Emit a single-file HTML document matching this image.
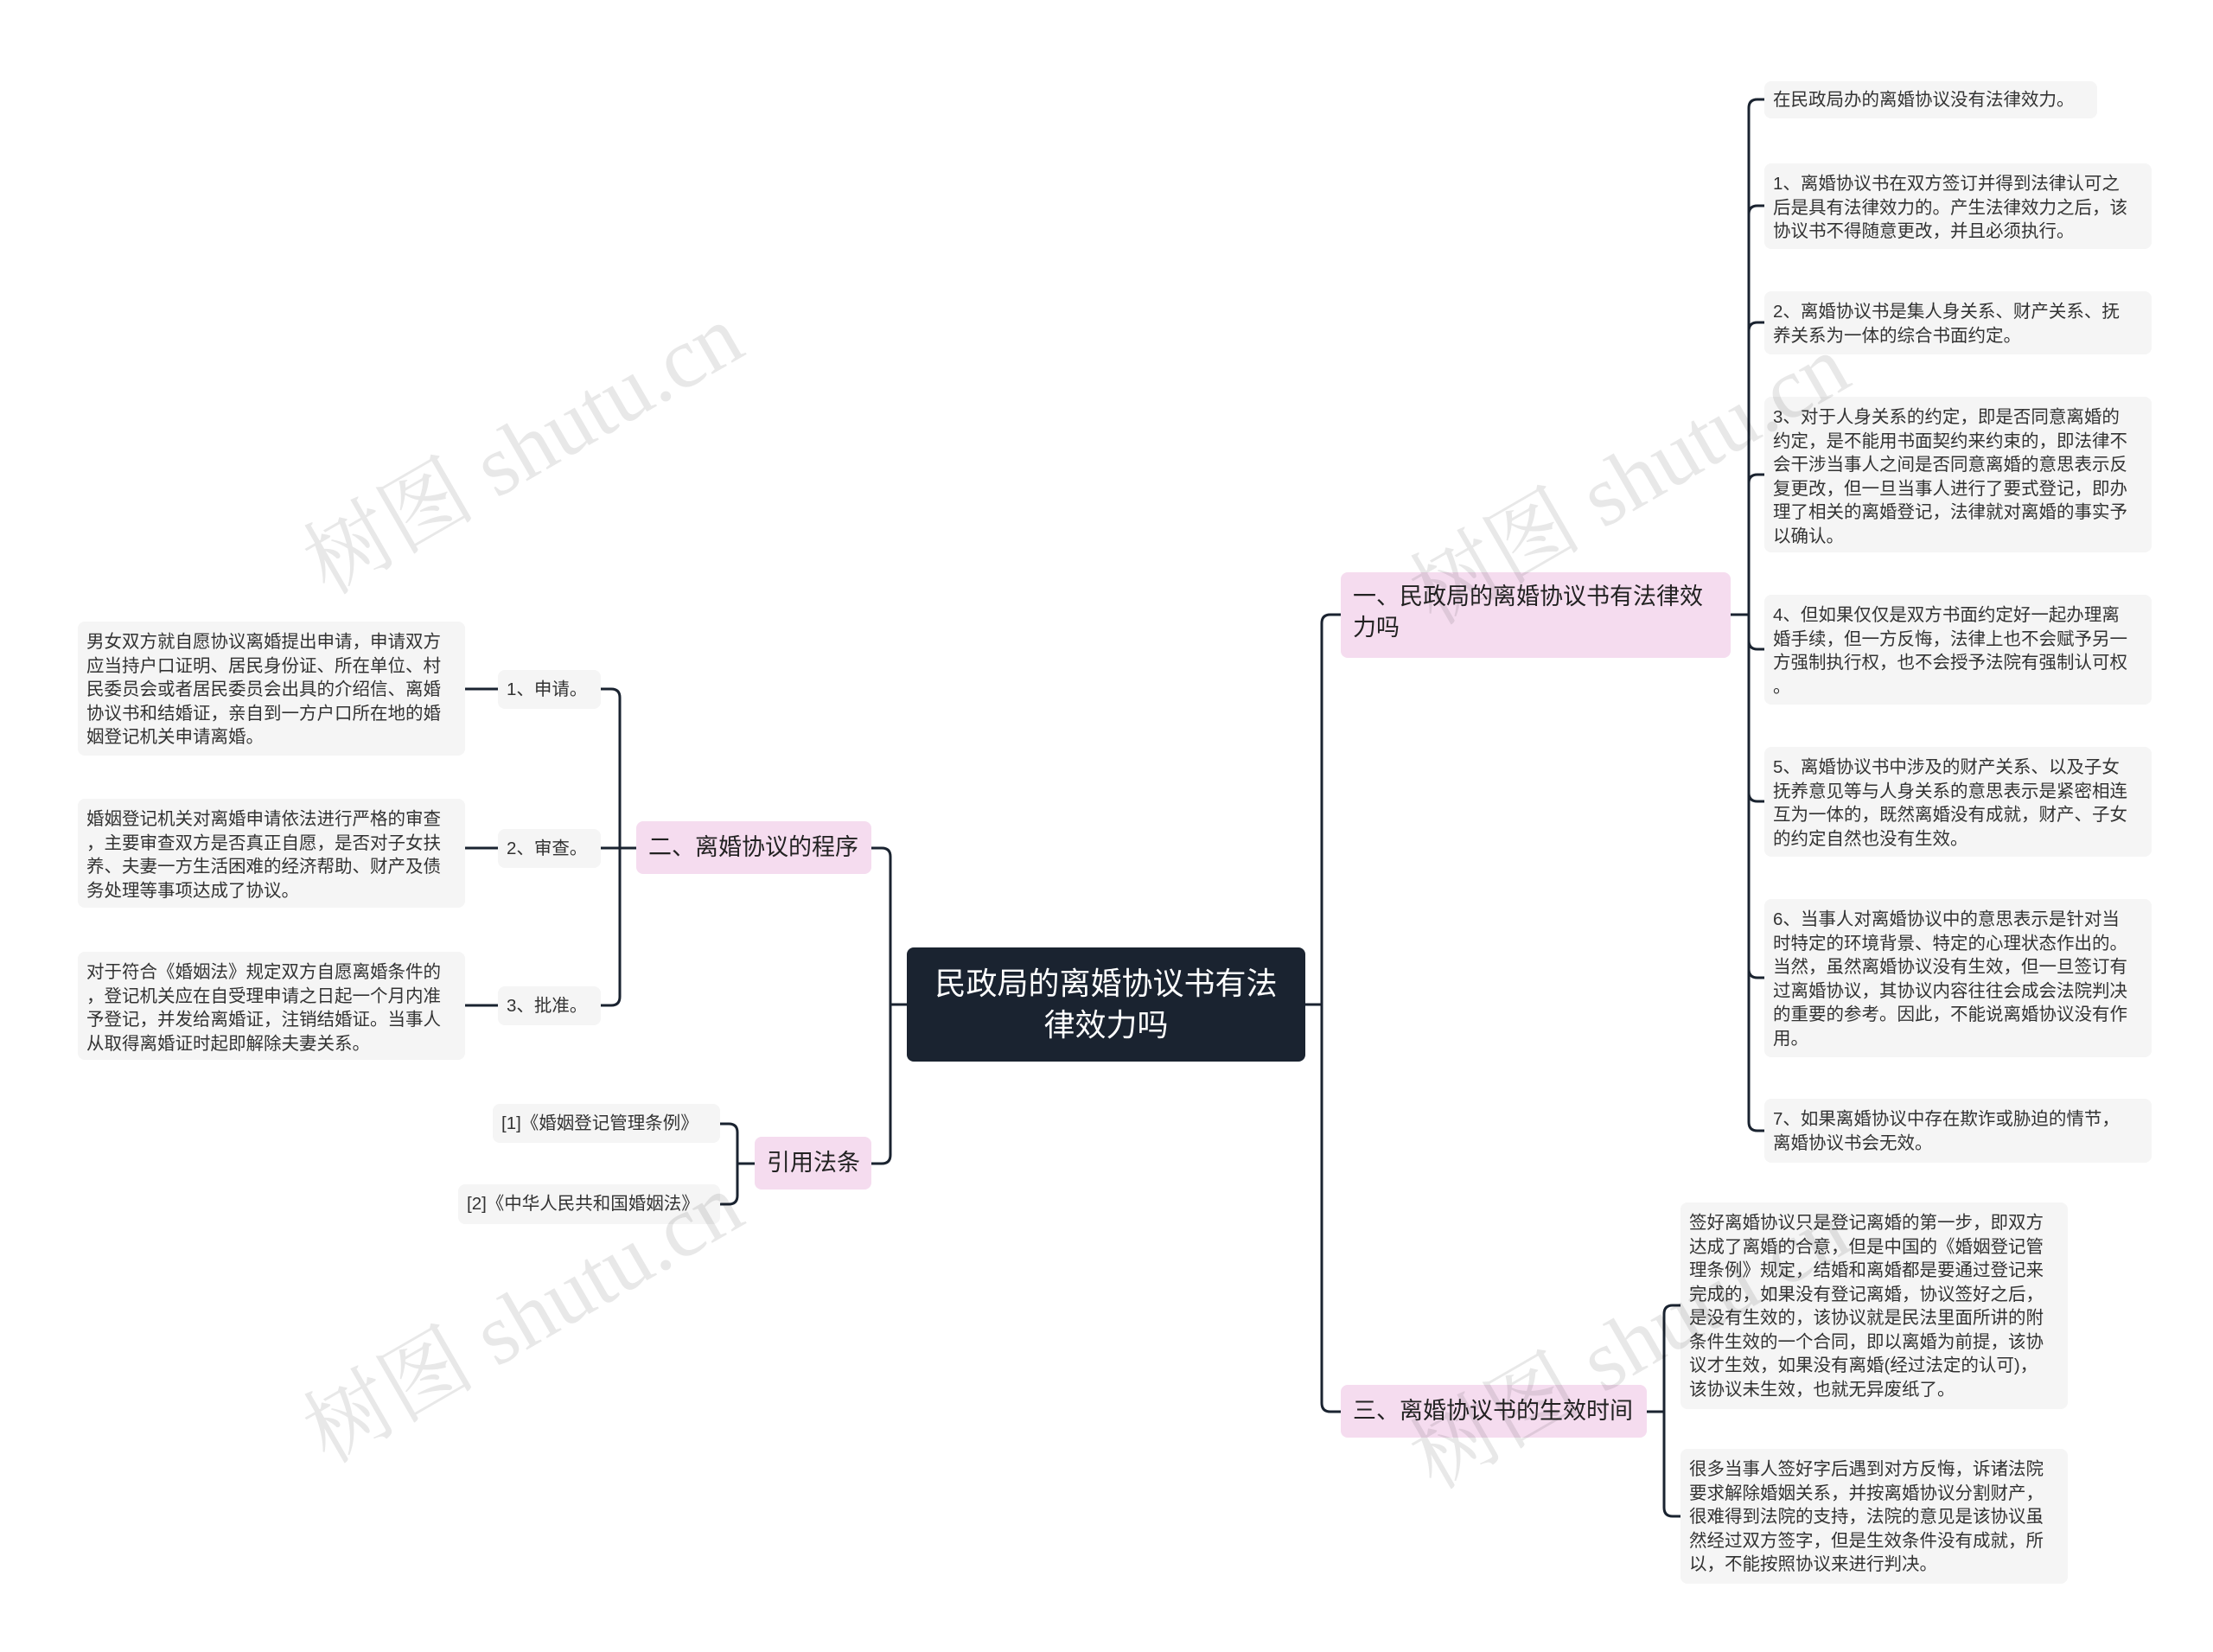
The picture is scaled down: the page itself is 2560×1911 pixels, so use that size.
<!DOCTYPE html>
<html><head><meta charset="utf-8"><style>
body{margin:0;width:2560px;height:1911px;background:#fff;position:relative;overflow:hidden;font-family:"Liberation Sans","Noto Sans CJK SC",sans-serif}
.n{position:absolute;box-sizing:border-box;white-space:nowrap}
.leaf{background:#f5f5f5;border-radius:8px;color:#333;font-size:20.5px;line-height:27.5px;padding:10px 10px}
.br{background:#f5dcef;border-radius:8px;color:#222;font-size:27px;line-height:36px;padding:10px 14px}
.wm{position:absolute;font-size:100px;color:rgba(0,0,0,0.09);transform:rotate(-30deg);white-space:nowrap;font-family:"Liberation Serif","Noto Serif CJK SC",serif}
</style></head><body>
<svg width="2560" height="1911" style="position:absolute;left:0;top:0" fill="none" stroke="#1a2330" stroke-width="3">
<path d="M1510 1162 H1529 V721 Q1529 711 1539 711 H1551"/>
<path d="M1529 1162 V1623 Q1529 1633 1539 1633 H1551"/>
<path d="M2002 711 H2023 V125 Q2023 115 2033 115 H2041"/>
<path d="M2023 711 V248 Q2023 238 2033 238 H2041"/>
<path d="M2023 711 V383 Q2023 373 2033 373 H2041"/>
<path d="M2023 711 V559 Q2023 549 2033 549 H2041"/>
<path d="M2023 711 V741 Q2023 751 2033 751 H2041"/>
<path d="M2023 711 V917 Q2023 927 2033 927 H2041"/>
<path d="M2023 711 V1121 Q2023 1131 2033 1131 H2041"/>
<path d="M2023 711 V1298 Q2023 1308 2033 1308 H2041"/>
<path d="M1905 1633 H1925 V1520 Q1925 1510 1935 1510 H1944"/>
<path d="M1925 1633 V1744 Q1925 1754 1935 1754 H1944"/>
<path d="M1049 1162 H1030 V991 Q1030 981 1020 981 H1008"/>
<path d="M1030 1162 V1336 Q1030 1346 1020 1346 H1008"/>
<path d="M736 981 H717 V807 Q717 797 707 797 H695"/>
<path d="M717 981 H695"/>
<path d="M717 981 V1153 Q717 1163 707 1163 H695"/>
<path d="M576 797 H538 M576 981 H538 M576 1163 H538"/>
<path d="M873 1346 H853 V1310 Q853 1300 843 1300 H833"/>
<path d="M853 1346 V1383 Q853 1393 843 1393 H833"/>
</svg>

<div class="n" style="left:1049px;top:1096px;width:461px;height:132px;background:#1a2330;border-radius:8px;color:#fff;font-size:36px;line-height:48px;text-align:center;padding-top:18px">民政局的离婚协议书有法<br>律效力吗</div>

<div class="n br" style="left:1551px;top:662px;width:451px;height:99px">一、民政局的离婚协议书有法律效<br>力吗</div>
<div class="n br" style="left:1551px;top:1602px;width:354px;height:61px;padding-top:12px">三、离婚协议书的生效时间</div>
<div class="n br" style="left:736px;top:950px;width:272px;height:61px;padding-top:12px">二、离婚协议的程序</div>
<div class="n br" style="left:873px;top:1315px;width:135px;height:61px;padding-top:12px">引用法条</div>

<div class="n leaf" style="left:2041px;top:94px;width:385px;height:43px;padding-top:8px">在民政局办的离婚协议没有法律效力。</div>
<div class="n leaf" style="left:2041px;top:189px;width:448px;height:99px">1、离婚协议书在双方签订并得到法律认可之<br>后是具有法律效力的。产生法律效力之后，该<br>协议书不得随意更改，并且必须执行。</div>
<div class="n leaf" style="left:2041px;top:337px;width:448px;height:73px">2、离婚协议书是集人身关系、财产关系、抚<br>养关系为一体的综合书面约定。</div>
<div class="n leaf" style="left:2041px;top:459px;width:448px;height:180px">3、对于人身关系的约定，即是否同意离婚的<br>约定，是不能用书面契约来约束的，即法律不<br>会干涉当事人之间是否同意离婚的意思表示反<br>复更改，但一旦当事人进行了要式登记，即办<br>理了相关的离婚登记，法律就对离婚的事实予<br>以确认。</div>
<div class="n leaf" style="left:2041px;top:688px;width:448px;height:127px">4、但如果仅仅是双方书面约定好一起办理离<br>婚手续，但一方反悔，法律上也不会赋予另一<br>方强制执行权，也不会授予法院有强制认可权<br>。</div>
<div class="n leaf" style="left:2041px;top:864px;width:448px;height:127px">5、离婚协议书中涉及的财产关系、以及子女<br>抚养意见等与人身关系的意思表示是紧密相连<br>互为一体的，既然离婚没有成就，财产、子女<br>的约定自然也没有生效。</div>
<div class="n leaf" style="left:2041px;top:1040px;width:448px;height:183px">6、当事人对离婚协议中的意思表示是针对当<br>时特定的环境背景、特定的心理状态作出的。<br>当然，虽然离婚协议没有生效，但一旦签订有<br>过离婚协议，其协议内容往往会成会法院判决<br>的重要的参考。因此，不能说离婚协议没有作<br>用。</div>
<div class="n leaf" style="left:2041px;top:1271px;width:448px;height:74px">7、如果离婚协议中存在欺诈或胁迫的情节，<br>离婚协议书会无效。</div>

<div class="n leaf" style="left:1944px;top:1391px;width:448px;height:239px">签好离婚协议只是登记离婚的第一步，即双方<br>达成了离婚的合意，但是中国的《婚姻登记管<br>理条例》规定，结婚和离婚都是要通过登记来<br>完成的，如果没有登记离婚，协议签好之后，<br>是没有生效的，该协议就是民法里面所讲的附<br>条件生效的一个合同，即以离婚为前提，该协<br>议才生效，如果没有离婚(经过法定的认可)，<br>该协议未生效，也就无异废纸了。</div>
<div class="n leaf" style="left:1944px;top:1676px;width:448px;height:156px">很多当事人签好字后遇到对方反悔，诉诸法院<br>要求解除婚姻关系，并按离婚协议分割财产，<br>很难得到法院的支持，法院的意见是该协议虽<br>然经过双方签字，但是生效条件没有成就，所<br>以，不能按照协议来进行判决。</div>

<div class="n leaf" style="left:576px;top:775px;width:119px;height:45px;padding-top:9px">1、申请。</div>
<div class="n leaf" style="left:576px;top:959px;width:119px;height:45px;padding-top:9px">2、审查。</div>
<div class="n leaf" style="left:576px;top:1141px;width:119px;height:45px;padding-top:9px">3、批准。</div>

<div class="n leaf" style="left:90px;top:719px;width:448px;height:155px">男女双方就自愿协议离婚提出申请，申请双方<br>应当持户口证明、居民身份证、所在单位、村<br>民委员会或者居民委员会出具的介绍信、离婚<br>协议书和结婚证，亲自到一方户口所在地的婚<br>姻登记机关申请离婚。</div>
<div class="n leaf" style="left:90px;top:924px;width:448px;height:126px">婚姻登记机关对离婚申请依法进行严格的审查<br>，主要审查双方是否真正自愿，是否对子女扶<br>养、夫妻一方生活困难的经济帮助、财产及债<br>务处理等事项达成了协议。</div>
<div class="n leaf" style="left:90px;top:1101px;width:448px;height:125px">对于符合《婚姻法》规定双方自愿离婚条件的<br>，登记机关应在自受理申请之日起一个月内准<br>予登记，并发给离婚证，注销结婚证。当事人<br>从取得离婚证时起即解除夫妻关系。</div>

<div class="n leaf" style="left:570px;top:1277px;width:263px;height:45px;padding-top:9px">[1]《婚姻登记管理条例》</div>
<div class="n leaf" style="left:530px;top:1370px;width:303px;height:46px;padding-top:9px">[2]《中华人民共和国婚姻法》</div>

<div class="wm" style="left:320px;top:440px">树图 shutu.cn</div>
<div class="wm" style="left:320px;top:1445px">树图 shutu.cn</div>
<div class="wm" style="left:1600px;top:475px">树图 shutu.cn</div>
<div class="wm" style="left:1600px;top:1475px">树图 shutu.cn</div>
</body></html>
